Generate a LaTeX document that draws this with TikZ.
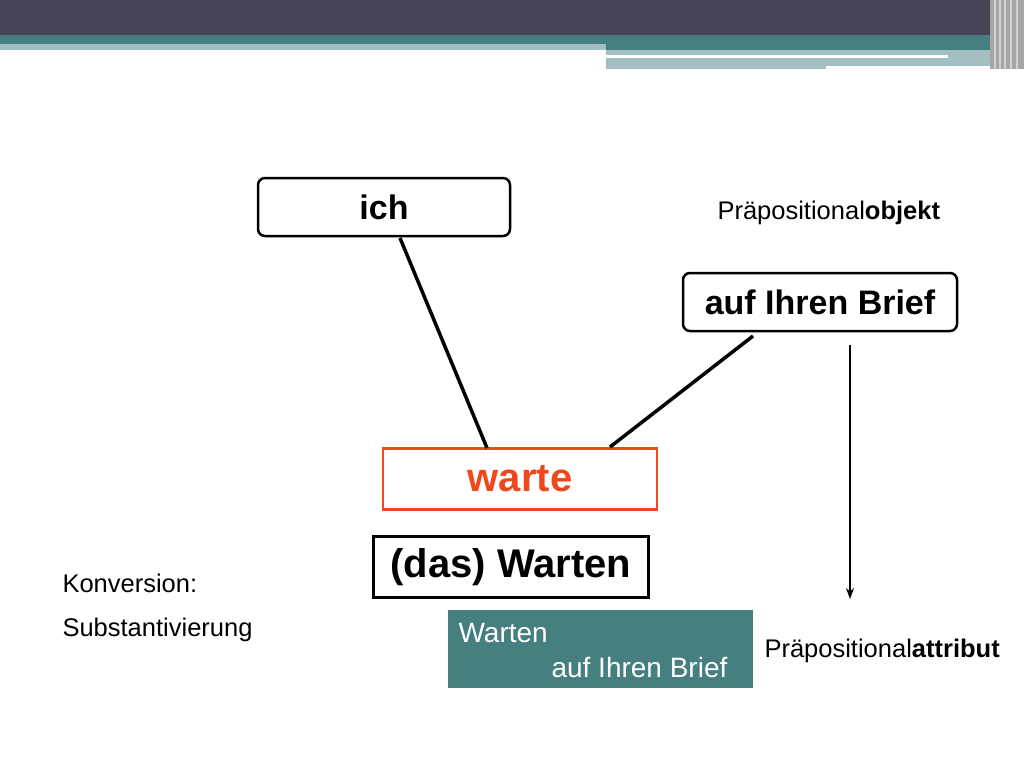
\documentclass[tikz,border=0pt]{standalone}
\usepackage{fontspec}
\setmainfont{Liberation Sans}
\usetikzlibrary{arrows.meta}
\definecolor{dark}{HTML}{444455}
\definecolor{teal1}{HTML}{457F80}
\definecolor{lteal}{HTML}{A3BFC2}
\definecolor{redc}{HTML}{F0471D}
\begin{document}
\begin{tikzpicture}[x=1pt,y=-1pt,
  rbox/.style={draw,line width=2.5pt,rounded corners=7pt,minimum width=250pt,minimum height=58pt,font=\fontsize{34}{38}\selectfont\bfseries},
  sbox/.style={draw,line width=2.5pt,font=\fontsize{40}{44}\selectfont\bfseries},
  lbl/.style={font=\fontsize{25.5}{28}\selectfont,anchor=west},
  tlbl/.style={text=white,font=\fontsize{28}{32}\selectfont,anchor=west},
  conn/.style={line width=3.5pt}]
\useasboundingbox (0,0) rectangle (1024,768);
\fill[white] (0,0) rectangle (1024,768);
% banner
\fill[dark] (0,0) rectangle (1024,35);
\fill[teal1] (0,35) rectangle (1000,50);
\fill[lteal] (0,44) rectangle (606,50);
\fill[lteal] (606,50) rectangle (1005,69);
\fill[white] (606,55) rectangle (948,58);
\fill[white] (826,66) rectangle (1005,69);
\fill[gray!70] (990,0) rectangle (1024,69);
\foreach \x in {994,999,1004,1010,1016} \fill[gray!35] (\x,0) rectangle (\x+2,69);
% nodes
\node[rbox,minimum width=252pt] (ich) at (384,207) {ich};
\node[rbox,minimum width=274pt] (auf) at (820,302) {auf Ihren Brief};
\node[sbox,draw=redc,text=redc,minimum width=274pt,minimum height=61pt] (warte) at (520,479) {warte};
\node[sbox,minimum width=275pt,minimum height=61pt] (das) at (511,567) {(das) Warten};
\node[fill=teal1,minimum width=305pt,minimum height=78pt] (tb) at (600,649) {};
\node[tlbl] (tw1) at (455,633) {Warten};
\node[tlbl] (tw2) at (548,667) {auf Ihren Brief};
\node[lbl] (po) at (714,213) {Präpositional\textbf{objekt}};
\node[lbl] (pa) at (761,651) {Präpositional\textbf{attribut}};
\node[lbl] (k1) at (59,583) {Konversion:};
\node[lbl] (k2) at (59,630) {Substantivierung};
% connectors
\coordinate (a1) at (400,238); \coordinate (a2) at (487,448);
\coordinate (b1) at (753,336); \coordinate (b2) at (610,447);
\coordinate (c1) at (850,345); \coordinate (c2) at (850,599);
\draw[conn] (a1) -- (a2);
\draw[conn] (b1) -- (b2);
\draw[line width=1.2pt,-{Stealth[length=11pt,width=8pt]}] (c1) -- (c2);
\end{tikzpicture}
\end{document}
